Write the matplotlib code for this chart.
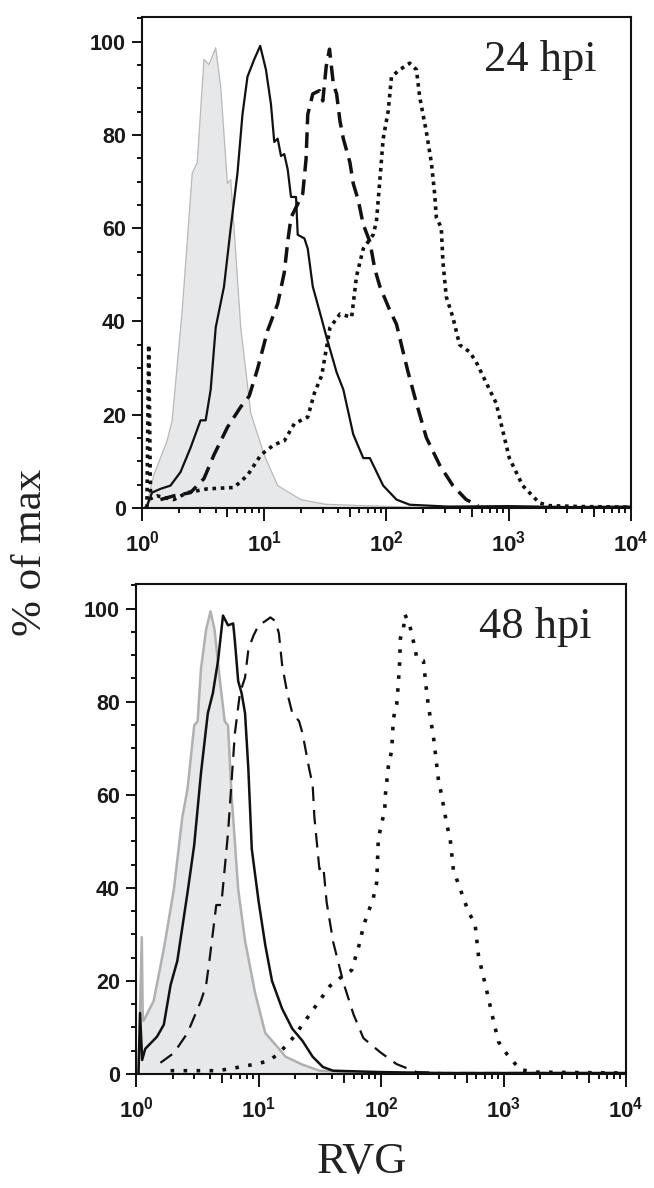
"""Flow-cytometry style RVG histograms at 24 hpi and 48 hpi (two stacked panels)."""
import matplotlib

matplotlib.use("Agg")
import matplotlib.pyplot as plt
import numpy as np
from matplotlib.ticker import FixedLocator, FixedFormatter, MultipleLocator

plt.rcParams["font.family"] = "Liberation Sans"
plt.rcParams["mathtext.fontset"] = "custom"
plt.rcParams["mathtext.rm"] = "Liberation Sans"
plt.rcParams["mathtext.bf"] = "Liberation Sans:bold"

# ---- data: x in decades (log10 of RVG intensity), y in % of max ----
# 24 hpi
top_gray_x = [0.0, 0.03, 0.06, 0.096, 0.205, 0.247, 0.329, 0.411, 0.452, 0.507, 0.548,
              0.603, 0.644, 0.699, 0.726, 0.753, 0.808, 0.890, 1.0, 1.11, 1.30, 1.5,
              1.8, 2.1, 2.4, 4.0]
top_gray_y = [0, 0, 3, 7.0, 14.4, 18.8, 42.4, 71.8, 74.1, 96.2, 95.1, 98.7, 90.3, 69.6,
              70.4, 60.1, 38.7, 20.3, 11.4, 4.8, 1.8, 0.8, 0.5, 0.3, 0, 0]

top_solid_x = [0.02, 0.041, 0.082, 0.151, 0.233, 0.315, 0.397, 0.479, 0.521, 0.562, 0.603,
               0.671, 0.726, 0.781, 0.822, 0.863, 0.918, 0.967, 1.014, 1.055, 1.082, 1.110,
               1.137, 1.164, 1.192, 1.219, 1.260, 1.274, 1.329, 1.356, 1.397, 1.466, 1.511,
               1.592, 1.647, 1.728, 1.810, 1.864, 1.973, 2.082, 2.19, 2.5, 3.0, 3.5, 4.0]
top_solid_y = [0, 0.4, 3.3, 4.1, 4.8, 7.7, 12.9, 18.8, 18.8, 25.4, 38.7, 47.5, 60.1, 71.8,
               84.4, 92.5, 96.2, 99.1, 94.0, 86.6, 78.5, 79.2, 75.5, 75.9, 72.6, 66.7, 66.7,
               58.6, 57.8, 55.6, 47.5, 40.9, 36.5, 29.1, 25.4, 15.8, 10.7, 10.7, 4.8, 1.8,
               0.7, 0.3, 0.4, 0.2, 0.3]

top_dash_x = [0.151, 0.260, 0.397, 0.507, 0.589, 0.699, 0.808, 0.877, 0.945, 1.027, 1.110,
              1.164, 1.192, 1.219, 1.274, 1.315, 1.342, 1.356, 1.397, 1.452, 1.479, 1.507,
              1.534, 1.565, 1.592, 1.620, 1.647, 1.701, 1.728, 1.769, 1.810, 1.864, 1.905,
              1.946, 2.027, 2.082, 2.122, 2.177, 2.245, 2.326, 2.435, 2.543, 2.652, 2.75]
top_dash_y = [1.8, 2.6, 3.3, 6.3, 11.4, 17.3, 21.7, 24.0, 29.8, 38.0, 43.8, 50.5, 57.1,
              62.3, 65.2, 67.4, 74.8, 84.4, 88.8, 89.5, 87.3, 94.7, 98.4, 91.0, 88.8, 82.9,
              79.2, 74.1, 69.6, 66.0, 60.8, 57.1, 51.2, 47.5, 42.4, 39.4, 35.0, 29.1, 22.5,
              15.1, 9.2, 4.8, 1.8, 0.5]

top_dot_x = [0.04, 0.055, 0.07, 0.123, 0.260, 0.370, 0.534, 0.753, 0.863, 0.973, 1.082,
             1.164, 1.247, 1.356, 1.411, 1.470, 1.538, 1.620, 1.715, 1.755, 1.810, 1.891,
             1.918, 1.946, 1.973, 2.014, 2.041, 2.109, 2.190, 2.245, 2.272, 2.326, 2.367,
             2.394, 2.408, 2.448, 2.462, 2.489, 2.543, 2.598, 2.679, 2.734, 2.815, 2.897,
             2.951, 3.005, 3.114, 3.250, 3.33, 3.6, 4.0]
top_dot_y = [0, 35.0, 2.0, 2.6, 1.8, 3.3, 4.1, 4.4, 7.0, 11.4, 13.6, 14.4, 18.1, 19.5,
             24.7, 28.4, 38.7, 41.6, 40.9, 49.7, 55.6, 58.6, 61.5, 70.4, 79.2, 85.1, 92.5,
             94.0, 95.4, 94.0, 88.1, 80.7, 74.1, 67.4, 62.3, 60.1, 52.7, 45.3, 40.9, 35.0,
             33.5, 31.3, 26.9, 22.5, 16.6, 10.7, 4.8, 1.1, 0.5, 0.3, 0.2]

# 48 hpi
bot_gray_x = [0.02, 0.047, 0.055, 0.061, 0.144, 0.227, 0.309, 0.378, 0.420, 0.475, 0.503,
              0.530, 0.572, 0.608, 0.641, 0.682, 0.724, 0.751, 0.779, 0.834, 0.890, 0.972,
              1.055, 1.138, 1.221, 1.359, 1.497, 1.8, 2.2, 4.0]
bot_gray_y = [0, 29.4, 12.0, 11.4, 15.7, 26.9, 39.7, 55.2, 61.2, 74.9, 75.8, 87.0, 95.5,
              99.4, 95.5, 85.2, 75.8, 74.9, 60.3, 39.7, 28.6, 17.4, 8.8, 6.3, 3.7, 2.0,
              0.7, 0.3, 0, 0]

bot_solid_x = [0.02, 0.033, 0.05, 0.075, 0.171, 0.227, 0.282, 0.337, 0.420, 0.475, 0.530,
               0.586, 0.627, 0.669, 0.710, 0.751, 0.793, 0.807, 0.834, 0.862, 0.890, 0.917,
               0.945, 1.0, 1.055, 1.110, 1.193, 1.276, 1.359, 1.442, 1.525, 1.608, 2.0,
               2.5, 4.0]
bot_solid_y = [0, 13.1, 3.0, 5.4, 8.0, 10.6, 19.1, 24.3, 38.9, 49.2, 64.6, 77.5, 81.8,
               88.7, 98.5, 96.4, 96.8, 93.0, 84.4, 81.8, 77.5, 65.5, 48.3, 37.2, 27.7, 20.0,
               14.0, 9.7, 7.1, 3.7, 1.5, 0.7, 0.4, 0.2, 0.2]

bot_dash_x = [0.199, 0.309, 0.420, 0.530, 0.572, 0.599, 0.655, 0.696, 0.751, 0.807, 0.848,
              0.890, 0.917, 0.959, 1.0, 1.055, 1.097, 1.138, 1.166, 1.193, 1.235, 1.276,
              1.331, 1.359, 1.414, 1.442, 1.456, 1.497, 1.529, 1.556, 1.610, 1.692, 1.774,
              1.856, 1.992, 2.128, 2.292, 2.5, 4.0]
bot_dash_y = [2.4, 4.5, 8.8, 15.7, 19.1, 24.3, 36.3, 36.3, 51.8, 73.2, 81.8, 85.2, 91.2,
              94.2, 96.4, 97.3, 98.1, 97.3, 94.7, 87.8, 81.8, 77.5, 75.8, 73.2, 65.5, 62.1,
              55.2, 44.0, 44.6, 36.9, 28.3, 19.7, 12.9, 7.7, 4.7, 2.1, 0.4, 0.2, 0.2]

bot_dot_x = [0.282, 0.420, 0.669, 0.807, 0.972, 1.083, 1.166, 1.276, 1.359, 1.497, 1.583,
             1.665, 1.760, 1.828, 1.856, 1.937, 1.965, 1.978, 2.030, 2.036, 2.060, 2.087,
             2.101, 2.128, 2.142, 2.152, 2.158, 2.183, 2.196, 2.237, 2.278, 2.292, 2.346,
             2.373, 2.387, 2.428, 2.441, 2.469, 2.496, 2.537, 2.564, 2.591, 2.632, 2.714,
             2.768, 2.796, 2.823, 2.877, 2.905, 2.959, 3.027, 3.136, 3.27, 3.6, 4.0]
bot_dot_y = [0.7, 0.7, 0.7, 1.3, 2.1, 2.8, 4.4, 7.6, 10.6, 15.7, 18.9, 20.6, 22.3, 28.3,
             31.8, 37.8, 41.2, 50.6, 56.7, 60.1, 66.1, 69.5, 76.4, 79.4, 84.1, 88.4, 93.6,
             95.7, 98.7, 96.1, 91.4, 89.3, 88.8, 82.0, 79.0, 72.5, 69.5, 63.1, 59.7, 53.6,
             50.6, 43.8, 40.8, 34.8, 32.2, 25.3, 22.3, 16.3, 12.9, 6.9, 4.3, 0.9, 0.4, 0.3,
             0.2]

DECADES = [1, 10, 100, 1000, 10000]
DECADE_LABELS = [r"$\mathbf{10^{0}}$", r"$\mathbf{10^{1}}$", r"$\mathbf{10^{2}}$",
                 r"$\mathbf{10^{3}}$", r"$\mathbf{10^{4}}$"]
Y_MAJOR = [0, 20, 40, 60, 80, 100]


def style_axes(ax, tag):
    ax.set_xscale("log")
    ax.set_xlim(1, 1e4)
    ax.set_ylim(0, 105.3)

    ax.xaxis.set_major_locator(FixedLocator(DECADES))
    ax.xaxis.set_major_formatter(FixedFormatter(DECADE_LABELS))
    minors = [m * d for d in DECADES[:-1] for m in range(2, 10)]
    ax.xaxis.set_minor_locator(FixedLocator(minors))
    ax.yaxis.set_major_locator(FixedLocator(Y_MAJOR))
    ax.yaxis.set_minor_locator(MultipleLocator(5))

    ax.tick_params(axis="both", which="both", direction="out", width=1.4,
                   color="#111111", labelcolor="#1a1a1a")
    ax.tick_params(axis="x", which="major", length=9.5, pad=7, labelsize=16)
    ax.tick_params(axis="x", which="minor", length=3.5)
    ax.tick_params(axis="y", which="major", length=7.5, pad=4, labelsize=15.5)
    ax.tick_params(axis="y", which="minor", length=3.5)
    for lab in ax.get_yticklabels():
        lab.set_fontweight("bold")

    # the 5x ticks are a bit longer than the other minor ticks
    for tick, loc in zip(ax.xaxis.get_minor_ticks(len(minors)), minors):
        if str(loc).startswith("5"):
            tick.tick1line.set_markersize(6.5)

    for sp in ax.spines.values():
        sp.set_linewidth(1.5)
        sp.set_color("#111111")

    ax.text(0.93, 0.89, tag, transform=ax.transAxes, ha="right", va="baseline",
            fontsize=32, family="Liberation Serif", color="#222222")


def lg(v):
    return 10 ** np.asarray(v)


fig = plt.figure(figsize=(6.54, 11.88), dpi=100)
ax1 = fig.add_axes([0.2171, 0.5724, 0.7477, 0.4133])
ax2 = fig.add_axes([0.2080, 0.0960, 0.7492, 0.4125])

# 24 hpi panel
ax1.fill_between(lg(top_gray_x), top_gray_y, 0, facecolor="#e7e8ea",
                 edgecolor="none", zorder=1)
ax1.plot(lg(top_gray_x), top_gray_y, color="#b9b9b9", lw=0.9, zorder=2)
ax1.plot(lg(top_solid_x), top_solid_y, color="#111111", lw=1.6, zorder=4)
ax1.plot(lg(top_dash_x), top_dash_y, color="#111111", lw=2.5,
         linestyle=(0, (4.5, 2.3)), zorder=3)
ax1.plot(lg(top_dot_x), top_dot_y, color="#111111", lw=2.6,
         linestyle=(0, (1, 1.3)), zorder=3)
style_axes(ax1, "24 hpi")

# 48 hpi panel
ax2.fill_between(lg(bot_gray_x), bot_gray_y, 0, facecolor="#e7e8ea",
                 edgecolor="none", zorder=1)
ax2.plot(lg(bot_gray_x), bot_gray_y, color="#b0b0b0", lw=1.8, zorder=2)
ax2.plot(lg(bot_solid_x), bot_solid_y, color="#111111", lw=1.8, zorder=4)
ax2.plot(lg(bot_dash_x), bot_dash_y, color="#111111", lw=1.6,
         linestyle=(0, (6.5, 4)), zorder=3)
ax2.plot(lg(bot_dot_x), bot_dot_y, color="#111111", lw=2.6,
         linestyle=(0, (1, 2.6)), zorder=3)
style_axes(ax2, "48 hpi")

fig.text(0.047, 0.535, "% of max", rotation=90, ha="center", va="center",
         fontsize=31, family="Liberation Serif", color="#222222")
fig.text(0.553, 0.0126, "RVG", ha="center", va="baseline",
         fontsize=32, family="Liberation Serif", color="#222222")

fig.savefig("out.png", dpi=100, facecolor="white")
